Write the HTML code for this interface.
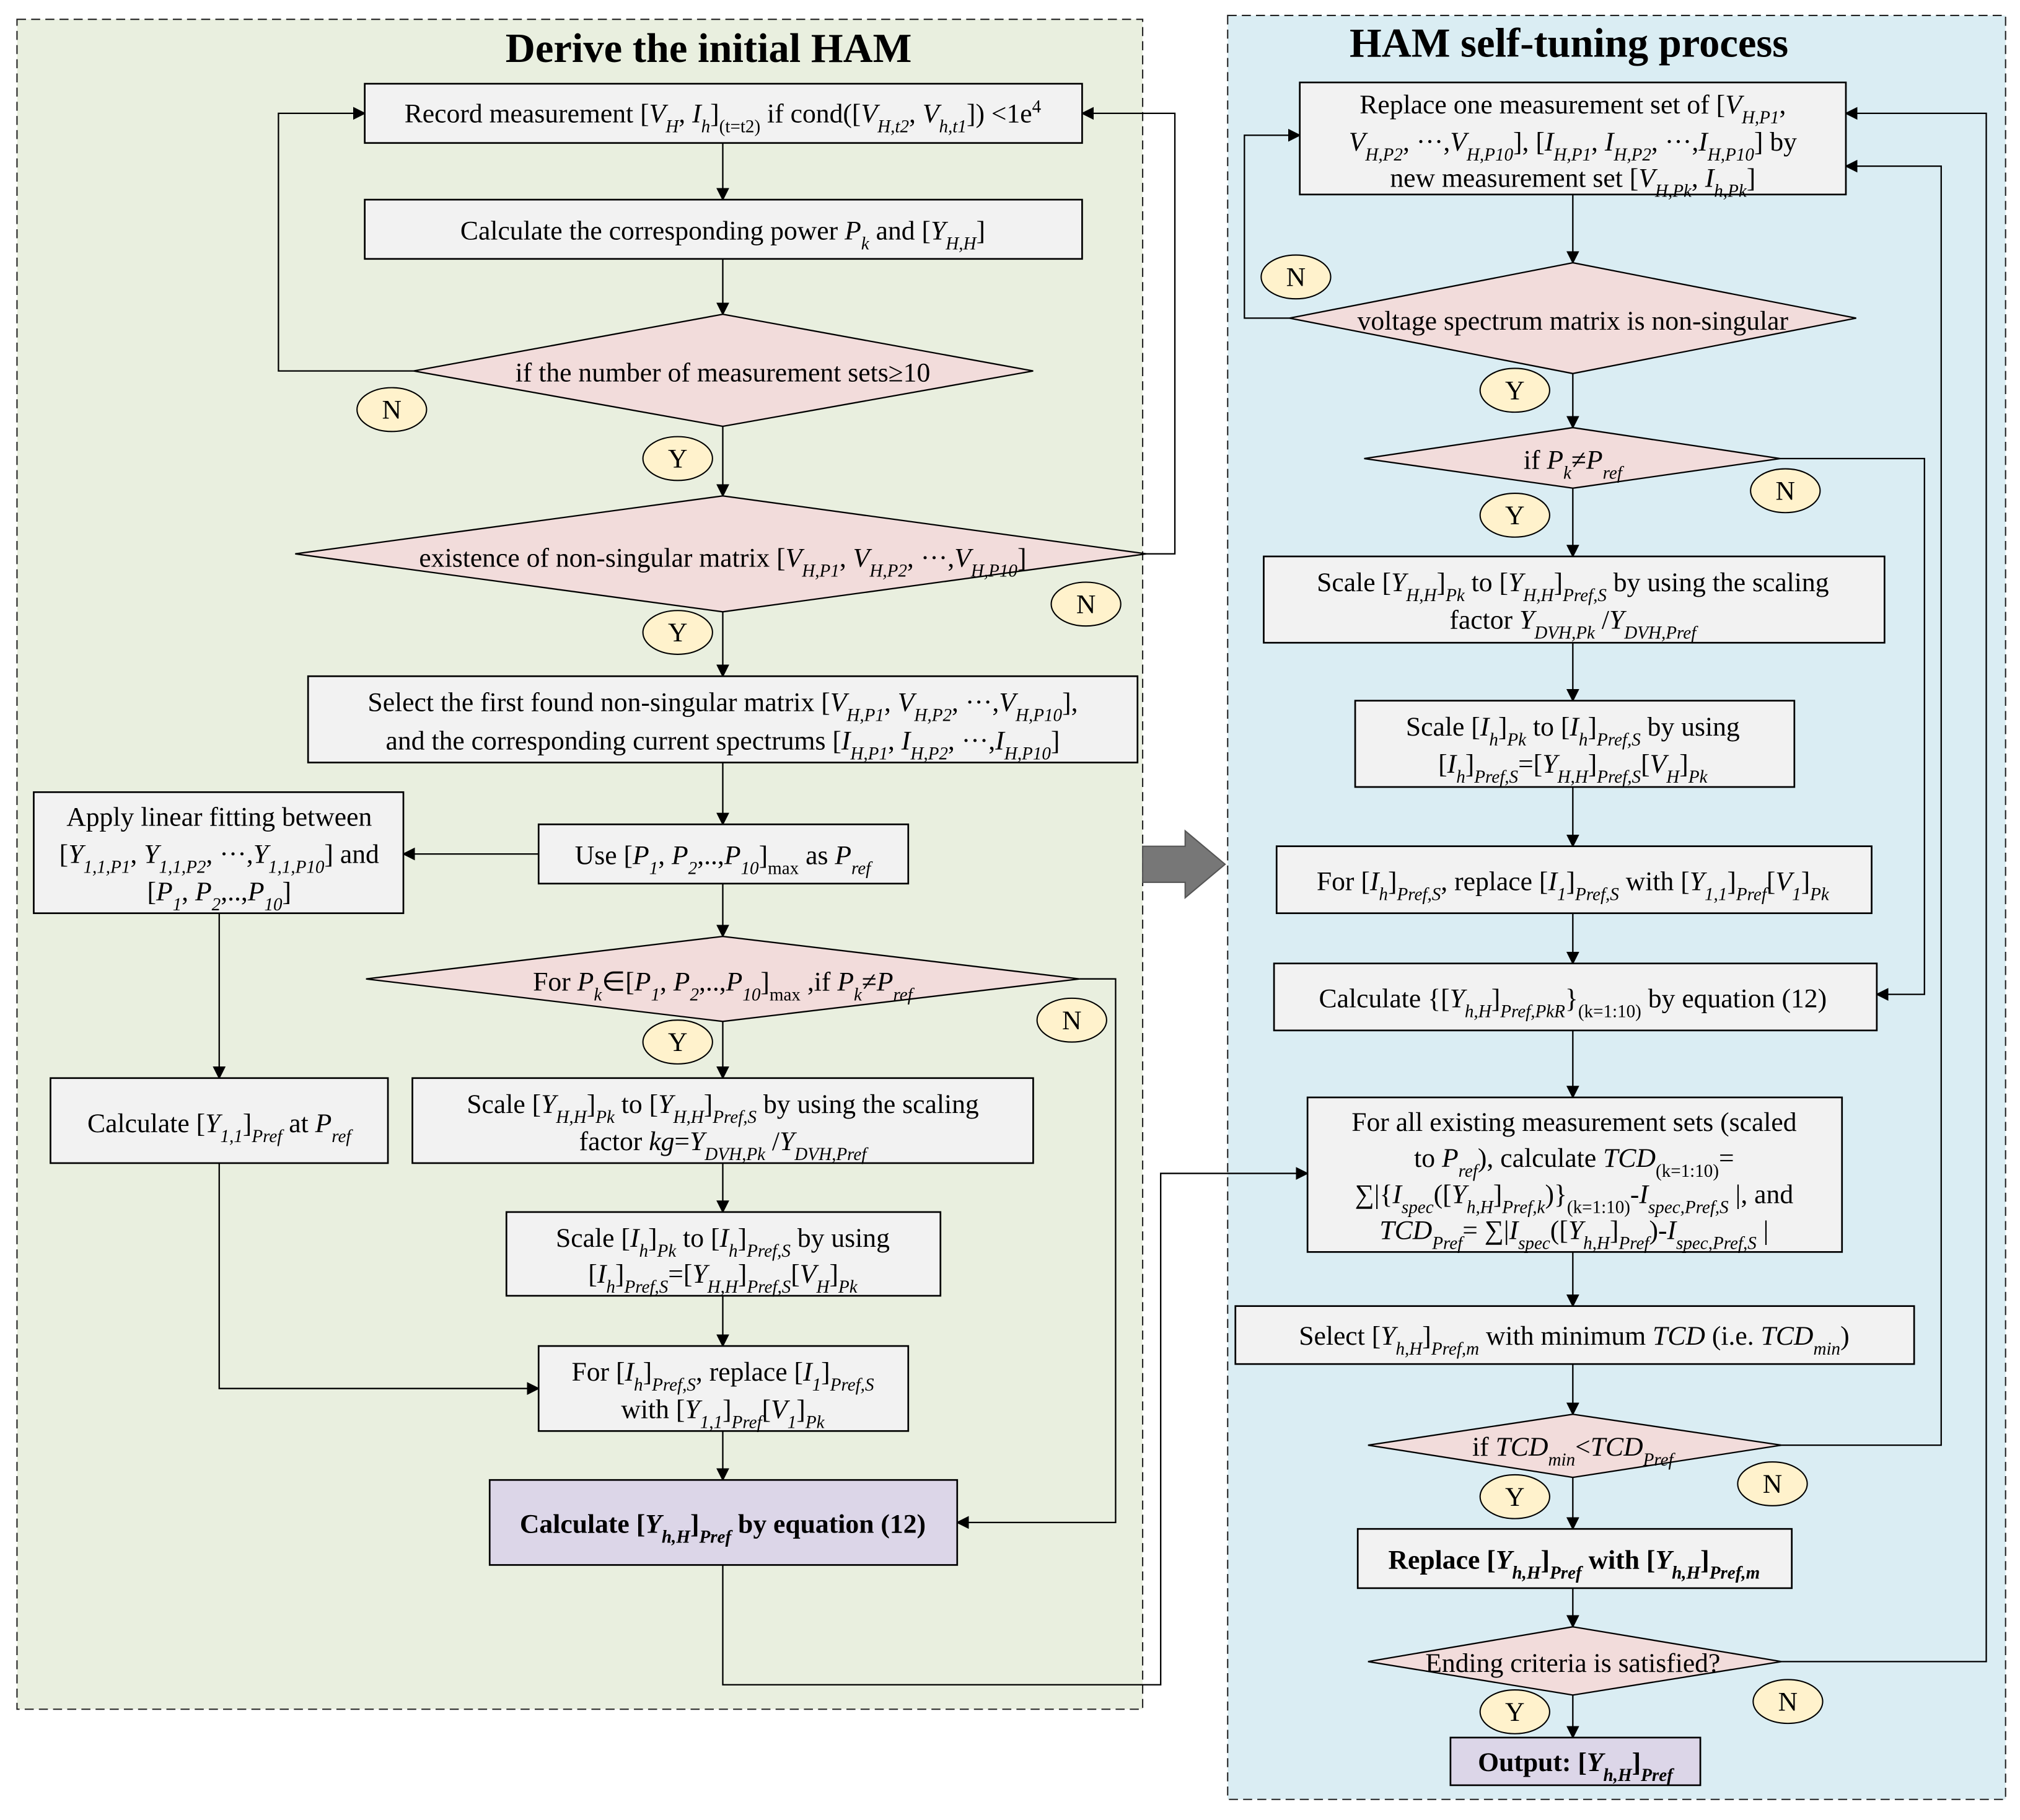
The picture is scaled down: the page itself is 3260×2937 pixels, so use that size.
<!DOCTYPE html>
<html><head><meta charset="utf-8"><style>
html,body{margin:0;padding:0;background:#fff}
svg{display:block}
text{font-family:"Liberation Serif",serif;font-size:21px;fill:#000}
.i{font-style:italic}
.s{font-size:14px;baseline-shift:sub}
.si{font-size:14px;baseline-shift:sub;font-style:italic}
.b{font-weight:bold}
.bx{fill:#f2f2f2;stroke:#000;stroke-width:1.3}
.dm{fill:#f2dcdb;stroke:#000;stroke-width:1.1}
.el{fill:#fff2cc;stroke:#000;stroke-width:1}
.pu{fill:#dcd6e8;stroke:#000;stroke-width:1.3}
.ln{fill:none;stroke:#000;stroke-width:1.1}
.t{font-size:32px;font-weight:bold}
</style></head><body>
<svg width="3260" height="2937" viewBox="0 0 1568 1413" xmlns="http://www.w3.org/2000/svg">
<defs><marker id="a" markerWidth="10" markerHeight="10" refX="9" refY="5" orient="auto" markerUnits="userSpaceOnUse"><path d="M0,0 L10,5 L0,10 z" fill="#000"/></marker></defs>
<rect x="13" y="15" width="874" height="1312" fill="#e9efdf" stroke="#222" stroke-dasharray="7,4" stroke-width="1"/>
<rect x="953" y="12" width="604" height="1385" fill="#daedf3" stroke="#222" stroke-dasharray="7,4" stroke-width="1"/>
<text x="550" y="48" text-anchor="middle" class="t">Derive the initial HAM</text>
<text x="1218" y="44" text-anchor="middle" class="t">HAM self-tuning process</text>

<g class="ln">
<path d="M561,111 V155" marker-end="url(#a)"/>
<path d="M561,201 V244" marker-end="url(#a)"/>
<path d="M321,288 H216 V88 H283" marker-end="url(#a)"/>
<path d="M561,331 V385" marker-end="url(#a)"/>
<path d="M890,430 H912 V88 H840" marker-end="url(#a)"/>
<path d="M561,475 V525" marker-end="url(#a)"/>
<path d="M561,592 V640" marker-end="url(#a)"/>
<path d="M418,663 H313" marker-end="url(#a)"/>
<path d="M561,686 V727" marker-end="url(#a)"/>
<path d="M170,709 V837" marker-end="url(#a)"/>
<path d="M838,760 H866 V1182 H743" marker-end="url(#a)"/>
<path d="M561,793 V837" marker-end="url(#a)"/>
<path d="M561,903 V941" marker-end="url(#a)"/>
<path d="M170,903 V1078 H418" marker-end="url(#a)"/>
<path d="M561,1006 V1045" marker-end="url(#a)"/>
<path d="M561,1111 V1149" marker-end="url(#a)"/>
<path d="M561,1215 V1308 H901 V911 H1015" marker-end="url(#a)"/>
</g>
<path d="M887,657 H920 V645 L951,671 L920,697 V685 H887 z" fill="#777" stroke="#555"/>

<rect x="283" y="65" width="557" height="46" class="bx"/>
<text x="561" y="95" text-anchor="middle">Record measurement [<tspan class="i">V</tspan><tspan class="si">H</tspan>, <tspan class="i">I</tspan><tspan class="si">h</tspan>]<tspan class="s">(t=t2)</tspan> if cond([<tspan class="i">V</tspan><tspan class="si">H,t2</tspan>, <tspan class="i">V</tspan><tspan class="si">h,t1</tspan>]) &lt;1e<tspan font-size="14" baseline-shift="super">4</tspan></text>
<rect x="283" y="155" width="557" height="46" class="bx"/>
<text x="561" y="186" text-anchor="middle">Calculate the corresponding power <tspan class="i">P</tspan><tspan class="si">k</tspan> and  [<tspan class="i">Y</tspan><tspan class="si">H,H</tspan>]</text>
<polygon points="321,288 561,244 802,288 561,331" class="dm"/>
<text x="561" y="296" text-anchor="middle">if the number of measurement sets≥10</text>
<polygon points="229,430 561,385 890,430 561,475" class="dm"/>
<text x="561" y="440" text-anchor="middle">existence of non-singular matrix [<tspan class="i">V</tspan><tspan class="si">H,P1</tspan>, <tspan class="i">V</tspan><tspan class="si">H,P2</tspan>, ···,<tspan class="i">V</tspan><tspan class="si">H,P10</tspan>]</text>
<rect x="239" y="525" width="644" height="67" class="bx"/>
<text x="561" y="552" text-anchor="middle">Select the first found non-singular matrix [<tspan class="i">V</tspan><tspan class="si">H,P1</tspan>, <tspan class="i">V</tspan><tspan class="si">H,P2</tspan>, ···,<tspan class="i">V</tspan><tspan class="si">H,P10</tspan>],</text>
<text x="561" y="582" text-anchor="middle">and the corresponding current spectrums [<tspan class="i">I</tspan><tspan class="si">H,P1</tspan>, <tspan class="i">I</tspan><tspan class="si">H,P2</tspan>, ···,<tspan class="i">I</tspan><tspan class="si">H,P10</tspan>]</text>
<rect x="418" y="640" width="287" height="46" class="bx"/>
<text x="561" y="671" text-anchor="middle">Use [<tspan class="i">P</tspan><tspan class="si">1</tspan>, <tspan class="i">P</tspan><tspan class="si">2</tspan>,..,<tspan class="i">P</tspan><tspan class="si">10</tspan>]<tspan class="s">max</tspan> as <tspan class="i">P</tspan><tspan class="si">ref</tspan></text>
<rect x="26" y="615" width="287" height="94" class="bx"/>
<text x="170" y="641" text-anchor="middle">Apply linear fitting between</text>
<text x="170" y="670" text-anchor="middle">[<tspan class="i">Y</tspan><tspan class="si">1,1,P1</tspan>, <tspan class="i">Y</tspan><tspan class="si">1,1,P2</tspan>, ···,<tspan class="i">Y</tspan><tspan class="si">1,1,P10</tspan>] and</text>
<text x="170" y="699" text-anchor="middle">[<tspan class="i">P</tspan><tspan class="si">1</tspan>, <tspan class="i">P</tspan><tspan class="si">2</tspan>,..,<tspan class="i">P</tspan><tspan class="si">10</tspan>]</text>
<polygon points="284,760 561,727 838,760 561,793" class="dm"/>
<text x="561" y="769" text-anchor="middle">For <tspan class="i">P</tspan><tspan class="si">k</tspan>∈[<tspan class="i">P</tspan><tspan class="si">1</tspan>, <tspan class="i">P</tspan><tspan class="si">2</tspan>,..,<tspan class="i">P</tspan><tspan class="si">10</tspan>]<tspan class="s">max</tspan> ,if <tspan class="i">P</tspan><tspan class="si">k</tspan>≠<tspan class="i">P</tspan><tspan class="si">ref</tspan></text>
<rect x="39" y="837" width="262" height="66" class="bx"/>
<text x="170" y="879" text-anchor="middle">Calculate [<tspan class="i">Y</tspan><tspan class="si">1,1</tspan>]<tspan class="si">Pref</tspan> at <tspan class="i">P</tspan><tspan class="si">ref</tspan></text>
<rect x="320" y="837" width="482" height="66" class="bx"/>
<text x="561" y="864" text-anchor="middle">Scale  [<tspan class="i">Y</tspan><tspan class="si">H,H</tspan>]<tspan class="si">Pk</tspan> to [<tspan class="i">Y</tspan><tspan class="si">H,H</tspan>]<tspan class="si">Pref,S</tspan> by using the scaling</text>
<text x="561" y="893" text-anchor="middle">factor   <tspan class="i">kg</tspan>=<tspan class="i">Y</tspan><tspan class="si">DVH,Pk</tspan> /<tspan class="i">Y</tspan><tspan class="si">DVH,Pref</tspan></text>
<rect x="393" y="941" width="337" height="65" class="bx"/>
<text x="561" y="968" text-anchor="middle">Scale  [<tspan class="i">I</tspan><tspan class="si">h</tspan>]<tspan class="si">Pk</tspan> to [<tspan class="i">I</tspan><tspan class="si">h</tspan>]<tspan class="si">Pref,S</tspan> by using</text>
<text x="561" y="996" text-anchor="middle">[<tspan class="i">I</tspan><tspan class="si">h</tspan>]<tspan class="si">Pref,S</tspan>=[<tspan class="i">Y</tspan><tspan class="si">H,H</tspan>]<tspan class="si">Pref,S</tspan>[<tspan class="i">V</tspan><tspan class="si">H</tspan>]<tspan class="si">Pk</tspan></text>
<rect x="418" y="1045" width="287" height="66" class="bx"/>
<text x="561" y="1072" text-anchor="middle">For [<tspan class="i">I</tspan><tspan class="si">h</tspan>]<tspan class="si">Pref,S</tspan>, replace [<tspan class="i">I</tspan><tspan class="si">1</tspan>]<tspan class="si">Pref,S</tspan></text>
<text x="561" y="1101" text-anchor="middle">with [<tspan class="i">Y</tspan><tspan class="si">1,1</tspan>]<tspan class="si">Pref</tspan>[<tspan class="i">V</tspan><tspan class="si">1</tspan>]<tspan class="si">Pk</tspan></text>
<rect x="380" y="1149" width="363" height="66" class="pu"/>
<text x="561" y="1190" text-anchor="middle" class="b">Calculate [<tspan class="i">Y</tspan><tspan class="si">h,H</tspan>]<tspan class="si">Pref</tspan> by equation (12)</text>

<ellipse cx="304" cy="318" rx="27" ry="17" class="el"/><text x="304" y="325" text-anchor="middle">N</text>
<ellipse cx="526" cy="356" rx="27" ry="17" class="el"/><text x="526" y="363" text-anchor="middle">Y</text>
<ellipse cx="843" cy="469" rx="27" ry="17" class="el"/><text x="843" y="476" text-anchor="middle">N</text>
<ellipse cx="526" cy="491" rx="27" ry="17" class="el"/><text x="526" y="498" text-anchor="middle">Y</text>
<ellipse cx="832" cy="792" rx="27" ry="17" class="el"/><text x="832" y="799" text-anchor="middle">N</text>
<ellipse cx="526" cy="809" rx="27" ry="17" class="el"/><text x="526" y="816" text-anchor="middle">Y</text>

<g class="ln">
<path d="M1221,151 V204" marker-end="url(#a)"/>
<path d="M1001,247 H966 V105 H1009" marker-end="url(#a)"/>
<path d="M1221,290 V332" marker-end="url(#a)"/>
<path d="M1382,356 H1494 V772 H1457" marker-end="url(#a)"/>
<path d="M1221,379 V432" marker-end="url(#a)"/>
<path d="M1221,499 V544" marker-end="url(#a)"/>
<path d="M1221,611 V657" marker-end="url(#a)"/>
<path d="M1221,709 V748" marker-end="url(#a)"/>
<path d="M1221,800 V852" marker-end="url(#a)"/>
<path d="M1221,972 V1014" marker-end="url(#a)"/>
<path d="M1221,1059 V1098" marker-end="url(#a)"/>
<path d="M1383,1122 H1507 V129 H1433" marker-end="url(#a)"/>
<path d="M1221,1147 V1187" marker-end="url(#a)"/>
<path d="M1221,1233 V1263" marker-end="url(#a)"/>
<path d="M1383,1290 H1542 V88 H1433" marker-end="url(#a)"/>
<path d="M1221,1316 V1349" marker-end="url(#a)"/>
</g>

<rect x="1009" y="64" width="424" height="87" class="bx"/>
<text x="1221" y="88" text-anchor="middle">Replace one measurement set of   [<tspan class="i">V</tspan><tspan class="si">H,P1</tspan>,</text>
<text x="1221" y="117" text-anchor="middle"><tspan class="i">V</tspan><tspan class="si">H,P2</tspan>, ···,<tspan class="i">V</tspan><tspan class="si">H,P10</tspan>],  [<tspan class="i">I</tspan><tspan class="si">H,P1</tspan>, <tspan class="i">I</tspan><tspan class="si">H,P2</tspan>, ···,<tspan class="i">I</tspan><tspan class="si">H,P10</tspan>] by</text>
<text x="1221" y="145" text-anchor="middle">new measurement set [<tspan class="i">V</tspan><tspan class="si">H,Pk</tspan>, <tspan class="i">I</tspan><tspan class="si">h,Pk</tspan>]</text>
<polygon points="1001,247 1221,204 1441,247 1221,290" class="dm"/>
<text x="1221" y="256" text-anchor="middle">voltage spectrum matrix is non-singular</text>
<polygon points="1059,356 1221,332 1382,356 1221,379" class="dm"/>
<text x="1221" y="364" text-anchor="middle">if <tspan class="i">P</tspan><tspan class="si">k</tspan>≠<tspan class="i">P</tspan><tspan class="si">ref</tspan></text>
<rect x="981" y="432" width="482" height="67" class="bx"/>
<text x="1221" y="459" text-anchor="middle">Scale  [<tspan class="i">Y</tspan><tspan class="si">H,H</tspan>]<tspan class="si">Pk</tspan> to [<tspan class="i">Y</tspan><tspan class="si">H,H</tspan>]<tspan class="si">Pref,S</tspan> by using the scaling</text>
<text x="1221" y="488" text-anchor="middle">factor   <tspan class="i">Y</tspan><tspan class="si">DVH,Pk</tspan> /<tspan class="i">Y</tspan><tspan class="si">DVH,Pref</tspan></text>
<rect x="1052" y="544" width="341" height="67" class="bx"/>
<text x="1221" y="571" text-anchor="middle">Scale  [<tspan class="i">I</tspan><tspan class="si">h</tspan>]<tspan class="si">Pk</tspan> to [<tspan class="i">I</tspan><tspan class="si">h</tspan>]<tspan class="si">Pref,S</tspan> by using</text>
<text x="1221" y="600" text-anchor="middle">[<tspan class="i">I</tspan><tspan class="si">h</tspan>]<tspan class="si">Pref,S</tspan>=[<tspan class="i">Y</tspan><tspan class="si">H,H</tspan>]<tspan class="si">Pref,S</tspan>[<tspan class="i">V</tspan><tspan class="si">H</tspan>]<tspan class="si">Pk</tspan></text>
<rect x="991" y="657" width="462" height="52" class="bx"/>
<text x="1221" y="691" text-anchor="middle">For [<tspan class="i">I</tspan><tspan class="si">h</tspan>]<tspan class="si">Pref,S</tspan>, replace [<tspan class="i">I</tspan><tspan class="si">1</tspan>]<tspan class="si">Pref,S</tspan> with [<tspan class="i">Y</tspan><tspan class="si">1,1</tspan>]<tspan class="si">Pref</tspan>[<tspan class="i">V</tspan><tspan class="si">1</tspan>]<tspan class="si">Pk</tspan></text>
<rect x="989" y="748" width="468" height="52" class="bx"/>
<text x="1221" y="782" text-anchor="middle">Calculate {[<tspan class="i">Y</tspan><tspan class="si">h,H</tspan>]<tspan class="si">Pref,PkR</tspan>}<tspan class="s">(k=1:10)</tspan> by equation (12)</text>
<rect x="1015" y="852" width="415" height="120" class="bx"/>
<text x="1222" y="878" text-anchor="middle">For all existing measurement sets (scaled</text>
<text x="1222" y="906" text-anchor="middle">to <tspan class="i">P</tspan><tspan class="si">ref</tspan>), calculate <tspan class="i">TCD</tspan><tspan class="s">(k=1:10)</tspan>=</text>
<text x="1222" y="934" text-anchor="middle">∑|{<tspan class="i">I</tspan><tspan class="si">spec</tspan>([<tspan class="i">Y</tspan><tspan class="si">h,H</tspan>]<tspan class="si">Pref,k</tspan>)}<tspan class="s">(k=1:10)</tspan>-<tspan class="i">I</tspan><tspan class="si">spec,Pref,S</tspan> |, and</text>
<text x="1222" y="962" text-anchor="middle"><tspan class="i">TCD</tspan><tspan class="si">Pref</tspan>= ∑|<tspan class="i">I</tspan><tspan class="si">spec</tspan>([<tspan class="i">Y</tspan><tspan class="si">h,H</tspan>]<tspan class="si">Pref</tspan>)-<tspan class="i">I</tspan><tspan class="si">spec,Pref,S</tspan> |</text>
<rect x="959" y="1014" width="527" height="45" class="bx"/>
<text x="1222" y="1044" text-anchor="middle">Select [<tspan class="i">Y</tspan><tspan class="si">h,H</tspan>]<tspan class="si">Pref,m</tspan> with minimum <tspan class="i">TCD</tspan> (i.e. <tspan class="i">TCD</tspan><tspan class="si">min</tspan>)</text>
<polygon points="1062,1122 1221,1098 1383,1122 1221,1147" class="dm"/>
<text x="1221" y="1130" text-anchor="middle">if <tspan class="i">TCD</tspan><tspan class="si">min</tspan>&lt;<tspan class="i">TCD</tspan><tspan class="si">Pref</tspan></text>
<rect x="1054" y="1187" width="337" height="46" class="bx"/>
<text x="1222" y="1218" text-anchor="middle" class="b">Replace [<tspan class="i">Y</tspan><tspan class="si">h,H</tspan>]<tspan class="si">Pref</tspan> with [<tspan class="i">Y</tspan><tspan class="si">h,H</tspan>]<tspan class="si">Pref,m</tspan></text>
<polygon points="1062,1290 1221,1263 1383,1290 1221,1316" class="dm"/>
<text x="1221" y="1298" text-anchor="middle">Ending criteria is satisfied?</text>
<rect x="1126" y="1349" width="194" height="37" class="pu"/>
<text x="1223" y="1375" text-anchor="middle" class="b">Output: [<tspan class="i">Y</tspan><tspan class="si">h,H</tspan>]<tspan class="si">Pref</tspan></text>

<ellipse cx="1006" cy="215" rx="27" ry="17" class="el"/><text x="1006" y="222" text-anchor="middle">N</text>
<ellipse cx="1176" cy="303" rx="27" ry="17" class="el"/><text x="1176" y="310" text-anchor="middle">Y</text>
<ellipse cx="1386" cy="381" rx="27" ry="17" class="el"/><text x="1386" y="388" text-anchor="middle">N</text>
<ellipse cx="1176" cy="400" rx="27" ry="17" class="el"/><text x="1176" y="407" text-anchor="middle">Y</text>
<ellipse cx="1376" cy="1152" rx="27" ry="17" class="el"/><text x="1376" y="1159" text-anchor="middle">N</text>
<ellipse cx="1176" cy="1162" rx="27" ry="17" class="el"/><text x="1176" y="1169" text-anchor="middle">Y</text>
<ellipse cx="1388" cy="1321" rx="27" ry="17" class="el"/><text x="1388" y="1328" text-anchor="middle">N</text>
<ellipse cx="1176" cy="1329" rx="27" ry="17" class="el"/><text x="1176" y="1336" text-anchor="middle">Y</text>
</svg>
</body></html>
